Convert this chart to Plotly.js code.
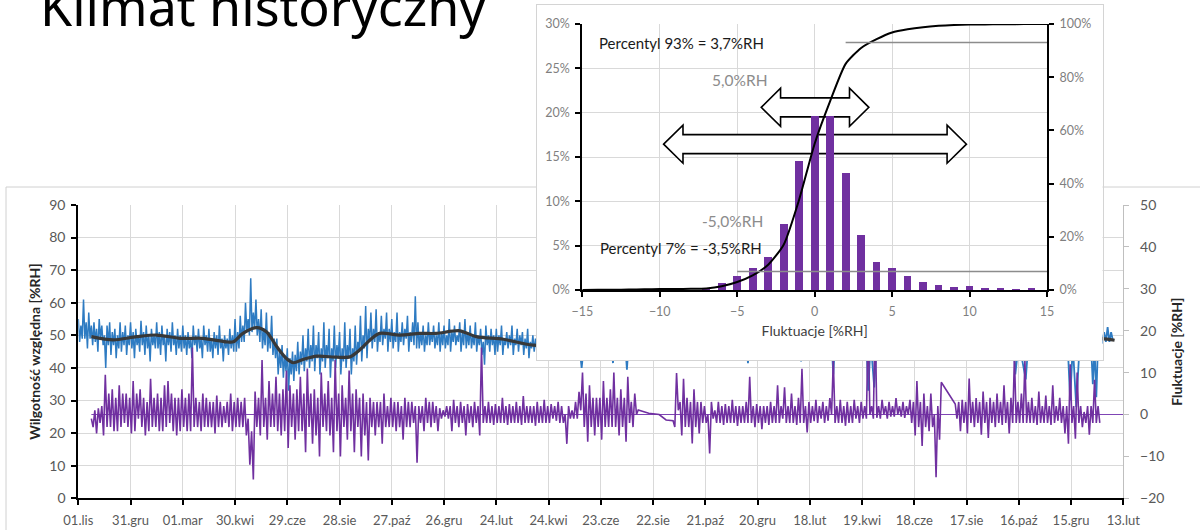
<!DOCTYPE html>
<html>
<head>
<meta charset="utf-8">
<script src="https://cdn.plot.ly/plotly-3.0.1.min.js"></script>
<style>
  html, body { margin: 0; padding: 0; background: #ffffff; }
  #chart { width: 1200px; height: 530px; }
</style>
</head>
<body>
<div id="chart"></div>
<script>
// ---- Time axis: days counted from 01.11.2014 ----
const dateTickDays = [0, 60, 120, 180, 240, 300, 360, 420, 480, 540, 600, 660, 720, 780, 840, 900, 960, 1020, 1080, 1140, 1200];
const dateTickLabels = ['01.lis', '31.gru', '01.mar', '30.kwi', '29.cze', '28.sie', '27.paź', '26.gru', '24.lut', '24.kwi',
  '23.cze', '22.sie', '21.paź', '20.gru', '18.lut', '19.kwi', '18.cze', '17.sie', '16.paź', '15.gru', '13.lut'];

// ---- Relative humidity [%RH], first period (a reading every 1.5 days from day 0) ----
const rhEarlyStart = 0, rhEarlyStep = 1.5;
const rhEarly = [
  55, 48, 53, 49, 61, 49, 54, 46, 57, 49, 53, 47, 54, 48, 52, 45, 55, 49, 53, 47,
  50, 40, 53, 47, 54, 44, 51, 47, 52, 43, 50, 46, 54, 45, 51, 47, 53, 44, 50, 47,
  54, 46, 51, 43, 52, 47, 50, 45, 54.5, 47, 51, 44, 53, 46, 50, 42, 52, 47, 50, 46,
  54, 46, 51, 44, 53, 47, 50, 42, 52, 47, 51, 45, 54, 47, 50, 44, 52, 46, 50, 45,
  53, 46, 50, 44, 51, 46, 49, 43, 53, 47, 50, 45, 52, 46, 49, 43, 53, 47, 50, 45,
  52, 45, 49, 43, 51, 46, 50, 44, 53, 46, 49, 42, 50, 46, 49, 44, 52, 46, 50, 45,
  55, 45, 51, 46, 56, 48, 53, 48, 60, 51, 55, 50, 67.5, 51, 57, 52, 61, 50, 55, 48,
  58, 46, 52, 47, 57, 45, 51, 46, 56, 44, 49, 43, 49, 38, 45, 40, 47, 37, 44, 39,
  46, 33, 43, 38, 45, 36, 44, 39, 48, 38, 45, 41, 50, 39, 46, 42, 52, 40, 47, 42,
  53, 39, 47, 43, 51, 38, 46, 42, 54, 40, 47, 43, 52, 37, 46, 42, 53, 40, 47, 43,
  51, 38, 46, 42, 54, 40, 47, 43, 52, 38, 46, 42, 53, 41, 48, 45, 56, 42, 50, 46,
  59, 43, 52, 48, 57, 46, 52, 48, 58, 45, 51, 48, 56, 47, 52, 49, 57, 45, 52, 48,
  55, 46, 51, 48, 57, 45, 51, 48, 54, 47, 52, 49, 56, 45, 51, 48, 54, 47, 62, 46,
  54, 46, 51, 47, 53, 45, 50, 47, 54, 47, 51, 48, 53, 46, 50, 47, 54, 45, 51, 47,
  53, 46, 50, 47, 55, 45, 51, 48, 53, 47, 50, 48, 54, 45, 51, 47, 55, 46, 51, 47,
  53, 46, 50, 47, 54, 45, 50, 47, 52, 44, 48, 41, 53, 47, 50, 45, 52, 47, 50, 44,
  52, 45, 50, 47, 53, 44, 49, 47, 51, 46, 50, 47, 53, 44, 49, 47, 52, 45, 50, 47,
  51, 44, 49, 46, 52, 43, 48, 46, 50, 45, 49, 46, 51, 43, 48, 46, 49, 44, 48, 46
];

// ---- Relative humidity, middle period (individual readings incl. short drops) ----
const rhMidDays = [540, 560, 575, 578, 581, 600, 612, 614, 616, 628, 630, 632, 660, 700, 740, 767, 769, 771, 800, 828, 830, 832,
  865, 867, 869, 905, 907, 910, 914, 917, 960, 1000, 1040, 1074, 1076, 1080, 1088, 1091, 1136, 1139, 1142, 1146, 1150,
  1163, 1165, 1167, 1169, 1171];
const rhMidVals = [48, 49, 48, 40, 48, 50, 48, 41.5, 49, 48, 39.5, 48, 48, 49, 48, 48, 41.5, 48, 49, 48, 42, 48,
  48, 38, 48, 48, 33, 48, 34, 48, 48, 48, 48, 48, 38, 48, 36.5, 48, 48, 30, 47, 28, 48,
  47, 35, 46, 31, 48];

// ---- Relative humidity, last days (every 2 days from day 1172) ----
const rhLateStart = 1172, rhLateStep = 2;
const rhLate = [48, 52, 47.5, 51, 48, 52.5, 48, 51, 48.5];

// ---- Moving average of relative humidity ----
const maDays = [15, 40, 67, 90, 117, 143, 170, 178, 189, 205, 216, 228, 239, 247, 258, 274, 297, 312, 323, 335, 346, 369,
  392, 411, 438, 457, 488, 522, 600, 700, 800, 900, 1000, 1100, 1175, 1190];
const maVals = [49.6, 48.6, 49.6, 50.1, 49.1, 49.1, 48.0, 48.0, 50.6, 52.4, 51.1, 46.5, 42.9, 41.6, 42.6, 43.6, 43.3, 43.4,
  45.5, 48.6, 50.6, 50.1, 50.6, 50.6, 51.4, 49.6, 48.8, 47.0, 46.5, 47, 48, 47.5, 48, 48.5, 49, 48.5];

// ---- Fluctuations [%RH] (every 2 days from day 15; null = no reading) ----
const flStart = 15, flStep = 2;
const fluct = [
  -1, -3, 1, -4.5, 1.5, -2, 2, -5, 9.5, -3, 5, -3, 6, -4, 4, -4, 7, -3, 5, -2,
  5, -3, 4, -4.5, 8, -4, 5, -1, 6, -3, 4, -5, 3, -4, 8.5, -3, 4, -3, 5, -4,
  4, -4, 7, -3, 8, -2, 5, -4, 4, -5, 4, -4, 6, -3, 4, -4, 5, -4, 16, -3,
  4, -3, 3, -4, 5, -3, 4, -3, 3, -3, 3, -4.5, 4.5, -3, 3, -3, 2, -2, 3, -3,
  5, -4, 3, -3, 4, -3, 3, -3, 4, -5, -1, -12, -4, -15.5, 5.5, -3, 4, -5, 13, -3,
  4, -6, 8, -3, 5, -3, 9, -4, 5, -5, 6, -4, 10.5, -8, 7, -3, 5, -6, 6, -4,
  9, -4, 5, -9, 11, -3, 5, -7, 6, -5, 4, -10, 10, -3, 5, -4, 8, -5, 4, -9,
  13, -4, 5, -10, 7, -3, 4, -6, 10.5, -4, 5, -9, 6, -3, 4, -10, 5, -5, 3, -11,
  4, -3, 3, -5, 3, -3, 3, -7, 5, -3, 2, -3, 4, -3, 3, -4, 3, -3, 2, -6,
  4, -3, 3, -3, 3, -2, 2, -11.5, 2, -2, 2, -4, 4, -2, 3, -3, 3, -2, 2, -4,
  1.5, -1, 1, -0.5, 2, -1, 2, -4, 3.5, -2, 2, -3, 3, -2, 2, -5, 2.5, -2, 2, -3,
  3, -2, 2, -5, 16, -2, 2, -2, 3, -2, 2, -2.5, 2.5, -2, 2, -2, 4, -2, 2, -2.5,
  2.5, -2, 2, -2, 3, -2, 2, -2.5, 4.4, -2, 2, -2, 2, -2, 2, -2.7, 3, -2, 2, -2,
  3.5, -2, 2, -2, 2.5, -1, 2, -1.5, 3, -2, 2, -2, 0, -7, 2, -1, 1, -1, 3, -1,
  5.4, 1, 10, -3, 5, -6.5, 7, -3, 4, -5, 4, -3, 4, -6, 8, -3, 4, -3, 6, -3,
  10, -3, 4, -5, 6, -3, 4, -6.5, 9, -2, 3, -3, 5, 0, 1.1, null, null, null, null, null,
  0.3, null, null, null, null, null, 0, null, null, null, -1.3, null, null, null, -1.5, -3, 9.9, 1, 3, -5,
  8.5, -3, 4, -3, 3, -6.9, 6, -3, 3, -4.5, 3, -2, 2, -2, 0, -9.3, 3, -1, 1, -2,
  3, -2, 2, -2.5, 2.5, -2, 2, -2, 3.5, -2, 2, -2.7, 2, -2, 2, -2, 3, -2, 9, -2,
  2, -3, 2.5, -2, 2, -3.5, 2, -2, 2, -2.5, 3, -2, 2, -2, 7, -2, 2, -1, 6.5, -2,
  2, -2, 5, -2, 2, -2.5, 4, -2, 10.9, -2, 2, -4.3, 3, -2, 2, -1.6, 3.5, -2, 2, -1,
  3, -2, 2, -1.5, 3.9, 0, 13, -2, 2, -2, 3.5, -2, 2, -2.7, 3, -2, 2, -2, 3.5, -1,
  2, -2, 3, -1, 2, -1, 22, 0, 2, -1, 24, -0.8, 2, -1, 3.5, 0, 2, -1, 3, -0.5,
  2, -0.5, 3.9, 0, 2, -0.5, 3, -0.8, 2, 0, 3.5, -2, 3, -5, 8, -3, 3, -7.5, 5, -3,
  2, -4, 5, -3, 0, -15, 2, -6, 7.7, null, null, null, null, null, null, null, 2.5, -1, 3, -4,
  3.5, -2, 3, -4.5, 8.6, -2, 3, -3, 3.9, -2, 3, -4.8, 5.5, -2, 3, -5.6, 4, -2, 3, -3,
  5, -2, 3, -2.5, 7, -2, 3, -4.5, 4, -2, 14, -2, 3, -2, 5, -2, 13, -2, 3, -2,
  4, -2, 2, -2.5, 5.5, -2, 2, -2, 4.5, -2, 2, -2.5, 7, -2, 2, -1.5, 4, -2, 2, -4.5,
  2, -7, 12, -2, 2, -5.8, 10, -2, 2, -3, 0.6, -2, 2, -4.8, 2, -2, 8.3, -2, 2, -2
];
const fluctZeroDays = [15, 1200];
const fluctZeroVals = [0, 0];

// ---- Histogram of fluctuations and cumulative share ----
const histBins = [-14, -13, -12, -11, -10, -9, -8, -7, -6, -5, -4, -3, -2, -1, 0, 1, 2, 3, 4, 5, 6, 7, 8, 9, 10, 11, 12, 13, 14];
const histShare = [0.05, 0.05, 0.05, 0.1, 0.1, 0.05, 0.05, 0.15, 0.8, 1.6, 2.5, 3.75, 7.4, 14.5, 19.6, 19.6, 13.2, 6.2, 3.2,
  2.45, 1.6, 0.9, 0.56, 0.37, 0.45, 0.25, 0.2, 0.1, 0.2];
const cdfX = [-15, -14, -13, -12, -11, -10, -9, -8, -7, -6, -5, -4, -3, -2, -1, 0, 1, 2, 3, 4, 5, 6, 7, 8, 9, 10, 11, 12, 13, 14, 15];
const cdfShare = [0, 0.05, 0.1, 0.15, 0.25, 0.35, 0.4, 0.45, 0.6, 1.4, 3, 5.5, 9.5, 17, 34, 55, 71, 85, 91, 94.3, 96.8, 98,
  98.8, 99.3, 99.6, 99.8, 99.85, 99.9, 99.95, 100, 100];
const p93LineX = [2, 15], p93LineY = [93, 93];
const p7LineX = [-5, 15], p7LineY = [7, 7];

// Double arrows marking the spread: [from, to, level in %]
const arrowSpans = [[-3.45, 3.5, 20.6], [-9.75, 9.8, 16.45]];

// ---- Page geometry (pixels) ----
const W = 1200, H = 530;
const PLOT = { l: 78.3, r: 1123.3, t: 205, b: 498.3 };
const PANEL = { l: 537, r: 1102.5, t: 5, b: 360 };
const INSET = { l: 582.3, r: 1047, t: 24, b: 290 };
const domX = (b) => [b.l / W, b.r / W];
const domY = (b) => [1 - b.b / H, 1 - b.t / H];

const BLUE = '#2E7BC2';
const PURPLE = '#7030A0';
const GRID = '#d9d9d9';
const FONT = 'Lato, "Open Sans", sans-serif';

function arrowPath(x0, x1, yc) {
  const h = 1.25, H2 = 2.15, s = 1.07;
  return 'M' + x0 + ',' + yc +
    ' L' + (x0 + h) + ',' + (yc + H2) + ' L' + (x0 + h) + ',' + (yc + s) +
    ' L' + (x1 - h) + ',' + (yc + s) + ' L' + (x1 - h) + ',' + (yc + H2) +
    ' L' + x1 + ',' + yc +
    ' L' + (x1 - h) + ',' + (yc - H2) + ' L' + (x1 - h) + ',' + (yc - s) +
    ' L' + (x0 + h) + ',' + (yc - s) + ' L' + (x0 + h) + ',' + (yc - H2) + ' Z';
}

const traces = [
  { type: 'scatter', mode: 'lines', x0: rhEarlyStart, dx: rhEarlyStep, y: rhEarly,
    line: { color: BLUE, width: 1.5 }, xaxis: 'x', yaxis: 'y', hoverinfo: 'skip' },
  { type: 'scatter', mode: 'lines', x: rhMidDays, y: rhMidVals,
    line: { color: BLUE, width: 1.8 }, xaxis: 'x', yaxis: 'y', hoverinfo: 'skip' },
  { type: 'scatter', mode: 'lines', x0: rhLateStart, dx: rhLateStep, y: rhLate,
    line: { color: BLUE, width: 1.8 }, xaxis: 'x', yaxis: 'y', hoverinfo: 'skip' },
  { type: 'scatter', mode: 'lines', x: maDays, y: maVals,
    line: { color: '#383838', width: 3.2, shape: 'spline', smoothing: 0.8 }, xaxis: 'x', yaxis: 'y', hoverinfo: 'skip' },
  { type: 'scatter', mode: 'lines', x: fluctZeroDays, y: fluctZeroVals,
    line: { color: '#7F45B5', width: 1 }, xaxis: 'x', yaxis: 'y2', hoverinfo: 'skip' },
  { type: 'scatter', mode: 'lines', x0: flStart, dx: flStep, y: fluct, connectgaps: true,
    line: { color: PURPLE, width: 1.6 }, xaxis: 'x', yaxis: 'y2', hoverinfo: 'skip' },
  // white panel holding the histogram
  { type: 'scatter', mode: 'lines', x: [], y: [], xaxis: 'x2', yaxis: 'y3', hoverinfo: 'skip' },
  { type: 'bar', x: histBins, y: histShare, width: 0.5, marker: { color: PURPLE, line: { width: 0 } },
    xaxis: 'x3', yaxis: 'y4', hoverinfo: 'skip' },
  { type: 'scatter', mode: 'lines', x: cdfX, y: cdfShare,
    line: { color: '#000000', width: 2, shape: 'spline', smoothing: 0.6 }, xaxis: 'x3', yaxis: 'y5', hoverinfo: 'skip' },
  { type: 'scatter', mode: 'lines', x: p93LineX, y: p93LineY,
    line: { color: '#8c8c8c', width: 1.5 }, xaxis: 'x3', yaxis: 'y5', hoverinfo: 'skip' },
  { type: 'scatter', mode: 'lines', x: p7LineX, y: p7LineY,
    line: { color: '#8c8c8c', width: 1.5 }, xaxis: 'x3', yaxis: 'y5', hoverinfo: 'skip' }
];

const tickFontMain = { family: FONT, size: 13, color: '#595959' };
const tickFontInset = { family: FONT, size: 12.5, color: '#7f7f7f' };

const shapes = [
  { type: 'rect', xref: 'paper', yref: 'paper', x0: 6 / W, x1: 1.02, y0: -0.05, y1: 1 - 187 / H,
    line: { color: '#d0d0d0', width: 1 }, fillcolor: 'rgba(0,0,0,0)', layer: 'below' }
];
arrowSpans.forEach(a => {
  shapes.push({ type: 'path', xref: 'x3', yref: 'y4', path: arrowPath(a[0], a[1], a[2]),
    line: { color: '#000000', width: 1.6 }, fillcolor: '#ffffff', layer: 'between' });
});

const annotations = [
  { text: 'Klimat historyczny', xref: 'paper', yref: 'paper', x: 38 / W, y: 1 - 5.2 / H,
    xanchor: 'left', yanchor: 'middle', showarrow: false,
    font: { family: '"Noto Sans", "Open Sans", sans-serif', size: 52, color: '#000000' } },
  { text: 'Percentyl 93% = 3,7%RH', xref: 'x3', yref: 'y4', x: -8.6, y: 27.85, xanchor: 'center', yanchor: 'middle',
    showarrow: false, font: { family: FONT, size: 15, color: '#1a1a1a' } },
  { text: '5,0%RH', xref: 'x3', yref: 'y4', x: -4.84, y: 23.68, xanchor: 'center', yanchor: 'middle',
    showarrow: false, font: { family: FONT, size: 15.5, color: '#8c8c8c' } },
  { text: '-5,0%RH', xref: 'x3', yref: 'y4', x: -5.29, y: 7.78, xanchor: 'center', yanchor: 'middle',
    showarrow: false, font: { family: FONT, size: 15.5, color: '#8c8c8c' } },
  { text: 'Percentyl 7% = -3,5%RH', xref: 'x3', yref: 'y4', x: -8.65, y: 4.73, xanchor: 'center', yanchor: 'middle',
    showarrow: false, font: { family: FONT, size: 15, color: '#1a1a1a' } }
];

const layout = {
  width: W, height: H,
  margin: { l: 0, r: 0, t: 0, b: 0, pad: 0 },
  paper_bgcolor: '#ffffff', plot_bgcolor: '#ffffff',
  showlegend: false, bargap: 0,
  font: { family: FONT, color: '#595959' },
  // main time-series axes
  xaxis: {
    domain: domX(PLOT), anchor: 'y', range: [0, 1200],
    tickmode: 'array', tickvals: dateTickDays, ticktext: dateTickLabels,
    showgrid: true, gridcolor: GRID, gridwidth: 1, zeroline: false,
    showline: true, linecolor: '#000000', linewidth: 2,
    ticks: 'outside', ticklen: 5, tickwidth: 2, tickcolor: '#000000',
    tickfont: tickFontMain, ticklabelstandoff: 4
  },
  yaxis: {
    domain: domY(PLOT), anchor: 'x', range: [0, 90], tick0: 0, dtick: 10,
    showgrid: true, gridcolor: GRID, gridwidth: 1, zeroline: false,
    showline: true, linecolor: '#000000', linewidth: 2,
    ticks: 'outside', ticklen: 5, tickwidth: 2, tickcolor: '#000000',
    tickfont: { family: FONT, size: 14, color: '#595959' }, ticklabelstandoff: 3,
    title: { text: 'Wilgotność względna [%RH]', standoff: 5,
      font: { family: FONT, size: 14, color: '#262626', weight: 'bold' } }
  },
  yaxis2: {
    overlaying: 'y', side: 'right', anchor: 'x', range: [-20, 50], tick0: 0, dtick: 10,
    showgrid: false, zeroline: false,
    showline: true, linecolor: '#bfbfbf', linewidth: 1,
    ticks: 'outside', ticklen: 5, tickwidth: 1, tickcolor: '#bfbfbf',
    tickfont: { family: FONT, size: 14, color: '#595959' }, ticklabelstandoff: 8,
    title: { text: 'Fluktuacje [%RH]', standoff: 8,
      font: { family: FONT, size: 14, color: '#262626', weight: 'bold' } }
  },
  // white framed panel
  xaxis2: {
    domain: domX(PANEL), anchor: 'y3', range: [0, 1], showgrid: false, zeroline: false,
    showticklabels: false, ticks: '', showline: true, mirror: true, linecolor: '#d4d4d4', linewidth: 1
  },
  yaxis3: {
    domain: domY(PANEL), anchor: 'x2', range: [0, 1], showgrid: false, zeroline: false,
    showticklabels: false, ticks: '', showline: true, mirror: true, linecolor: '#d4d4d4', linewidth: 1
  },
  // histogram axes
  xaxis3: {
    domain: domX(INSET), anchor: 'y4', range: [-15, 15],
    tickmode: 'array', tickvals: [-15, -10, -5, 0, 5, 10, 15],
    showgrid: true, gridcolor: GRID, gridwidth: 1, zeroline: false,
    showline: true, linecolor: '#000000', linewidth: 2,
    ticks: 'outside', ticklen: 5, tickwidth: 2, tickcolor: '#000000',
    tickfont: tickFontInset, ticklabelstandoff: 4,
    title: { text: 'Fluktuacje [%RH]', standoff: 8, font: { family: FONT, size: 14, color: '#404040' } }
  },
  yaxis4: {
    domain: domY(INSET), anchor: 'x3', range: [0, 30], tick0: 0, dtick: 5, ticksuffix: '%',
    showgrid: true, gridcolor: GRID, gridwidth: 1, zeroline: false,
    showline: true, linecolor: '#000000', linewidth: 2,
    ticks: 'outside', ticklen: 5, tickwidth: 2, tickcolor: '#000000',
    tickfont: tickFontInset, ticklabelstandoff: 3
  },
  yaxis5: {
    overlaying: 'y4', side: 'right', anchor: 'x3', range: [0, 100], tick0: 0, dtick: 20, ticksuffix: '%',
    showgrid: false, zeroline: false,
    showline: true, linecolor: '#000000', linewidth: 2,
    ticks: 'outside', ticklen: 5, tickwidth: 2, tickcolor: '#000000',
    tickfont: tickFontInset, ticklabelstandoff: 3
  },
  shapes: shapes,
  annotations: annotations
};

Plotly.newPlot('chart', traces, layout, { staticPlot: true, displayModeBar: false });
</script>
</body>
</html>
